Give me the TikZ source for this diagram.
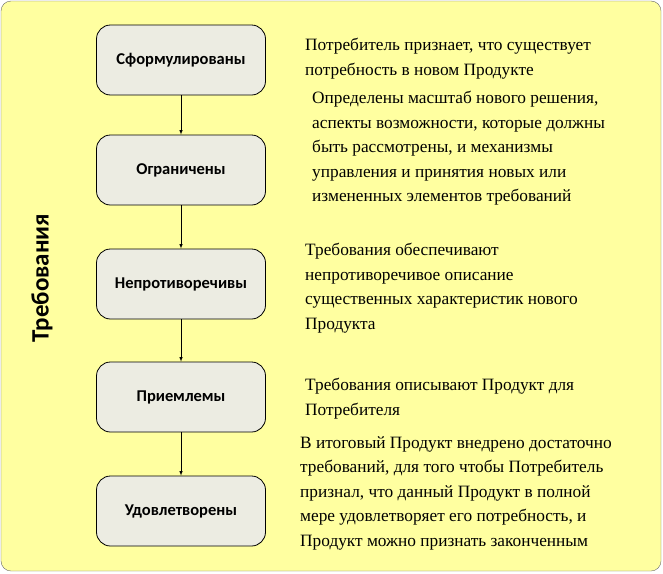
\documentclass[tikz,border=0pt]{standalone}
\usepackage{fontspec}
\setmainfont{Liberation Serif}
\newfontfamily\boxfont{Carlito}
\definecolor{boxfill}{RGB}{236,236,226}
\definecolor{bgfill}{RGB}{255,255,160}
\begin{document}
\begin{tikzpicture}[x=1pt,y=-1pt,
  stage/.style={draw=black,line width=0.8pt,rounded corners=14pt,fill=boxfill,
    minimum width=169pt,minimum height=70pt,font=\boxfont\bfseries\fontsize{16.5}{19}\selectfont},
  desc/.style={anchor=north west,align=left,inner sep=0pt,font=\fontsize{17.3}{24.5}\selectfont},
  link/.style={-latex,line width=0.6pt}]
\useasboundingbox (0,0) rectangle (663,573);
\draw[fill=bgfill,draw=black!60,rounded corners=10pt] (1,1) rectangle (661,571);
\node[stage] (s1) at (181,60) {Сформулированы};
\node[stage] (s2) at (181,170) {Ограничены};
\node[stage] (s3) at (181,284) {Непротиворечивы};
\node[stage] (s4) at (181,397) {Приемлемы};
\node[stage] (s5) at (181,511) {Удовлетворены};
\draw[link] (s1) -- (s2);
\draw[link] (s2) -- (s3);
\draw[link] (s3) -- (s4);
\draw[link] (s4) -- (s5);
\node[rotate=90,font=\boxfont\bfseries\fontsize{25}{28}\selectfont] (lbl) at (42,278) {Требования};
\node[desc] (t1) at (305,38) {Потребитель признает, что существует\\потребность в новом Продукте};
\node[desc] (t2) at (312,91) {Определены масштаб нового решения,\\аспекты возможности, которые должны\\быть рассмотрены, и механизмы\\управления и принятия новых или\\измененных элементов требований};
\node[desc] (t3) at (305,243) {Требования обеспечивают\\непротиворечивое описание\\существенных характеристик нового\\Продукта};
\node[desc] (t4) at (305,378) {Требования описывают Продукт для\\Потребителя};
\node[desc] (t5) at (300,436) {В итоговый Продукт внедрено достаточно\\требований, для того чтобы Потребитель\\признал, что данный Продукт в полной\\мере удовлетворяет его потребность, и\\Продукт можно признать законченным};
\end{tikzpicture}
\end{document}
